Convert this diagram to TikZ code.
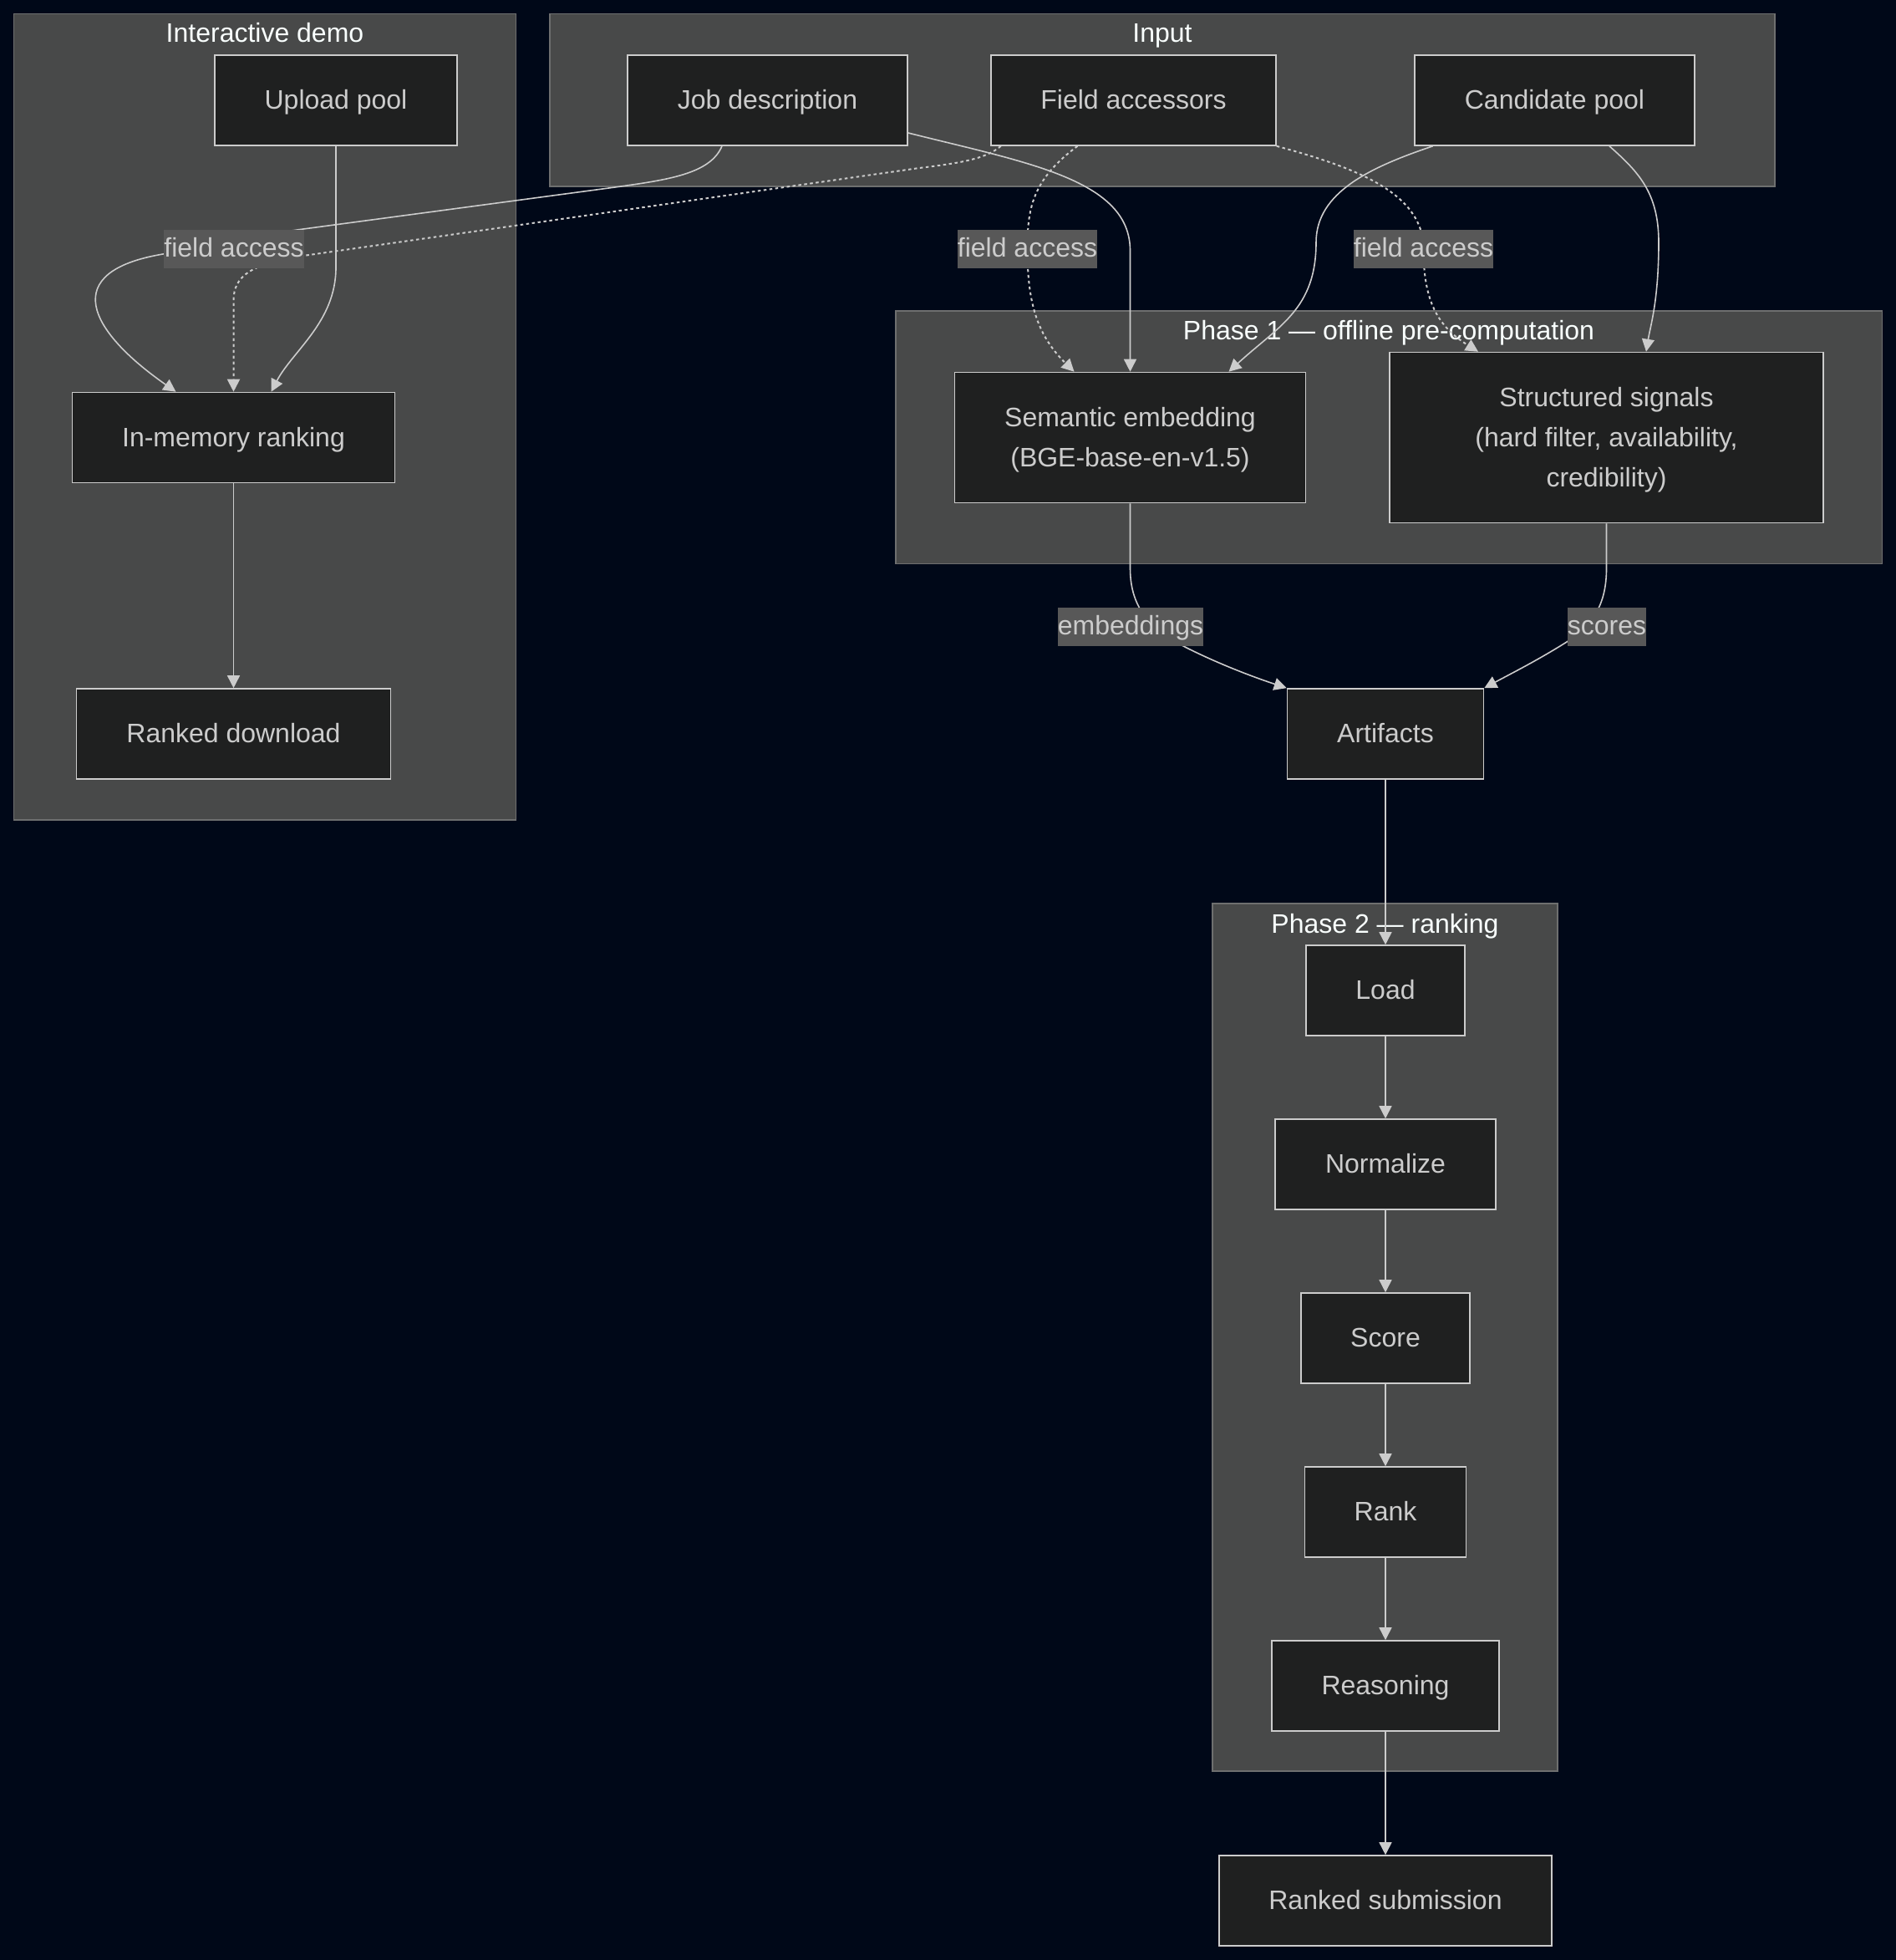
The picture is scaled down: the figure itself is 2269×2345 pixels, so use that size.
\documentclass[tikz,border=0pt]{standalone}
\usepackage{fontspec}
\setmainfont{Liberation Sans}
\usetikzlibrary{arrows.meta}
\definecolor{bgc}{HTML}{000818}
\definecolor{clusterfill}{HTML}{484949}
\definecolor{clusterline}{HTML}{6E6F6F}
\definecolor{nodefill}{HTML}{1F2020}
\definecolor{nodeline}{HTML}{CCCCCC}
\definecolor{textc}{HTML}{CCCCCC}
\definecolor{titlec}{HTML}{F9FFFE}
\definecolor{labelfill}{HTML}{585858}
\definecolor{edgec}{HTML}{CCCCCC}
\pgfdeclarelayer{bg}
\pgfdeclarelayer{back}
\pgfdeclarelayer{mid}
\pgfsetlayers{bg,back,mid,main}
\tikzset{
  nbox/.style={draw=nodeline, fill=nodefill, line width=1.6pt, text=textc, inner sep=0pt,
               minimum height=108pt, text height=21pt, text depth=0pt},
  mbox/.style={draw=nodeline, fill=nodefill, line width=1.6pt, text=textc, inner sep=0pt, align=center},
  cluster/.style={draw=clusterline, fill=clusterfill, line width=1.2pt},
  ctitle/.style={text=titlec, inner sep=0pt, text height=22pt, text depth=0pt},
  elabel/.style={fill=labelfill, text=textc, inner xsep=0pt, inner ysep=0pt,
                 minimum height=46pt, text height=19pt, text depth=0pt},
  conn/.style={draw=edgec, line width=1.6pt, -{Triangle[length=15pt,width=15pt]}},
  dotconn/.style={conn, line width=2pt, dash pattern=on 3.5pt off 3.5pt},
}
\begin{document}
\begin{tikzpicture}[x=1pt, y=-1pt, font=\fontsize{32pt}{48pt}\selectfont]
\begin{pgfonlayer}{bg}
  \fill[bgc] (0,0) rectangle (2269,2345);
\end{pgfonlayer}
\useasboundingbox (0,0) rectangle (2269,2345);

% clusters
\begin{pgfonlayer}{back}
  \draw[cluster] (16.5,16.5) rectangle (617.7,981);
  \node[ctitle] (tdemo) at (317,39) {Interactive demo};
  \draw[cluster] (658,16.5) rectangle (2124,223);
  \node[ctitle] (tinput) at (1391,39) {Input};
  \draw[cluster] (1072,372) rectangle (2252.5,674.6);
  \node[ctitle] (tphase1) at (1662,395) {Phase 1 — offline pre-computation};
  \draw[cluster] (1451,1081) rectangle (1864,2119);
  \node[ctitle] (tphase2) at (1657.5,1105) {Phase 2 — ranking};
\end{pgfonlayer}

% nodes
\node[nbox, minimum width=290pt] (upload) at (402,120) {Upload pool};
\node[nbox, minimum width=335pt] (job) at (918.5,120) {Job description};
\node[nbox, minimum width=341pt] (fa) at (1356.5,120) {Field accessors};
\node[nbox, minimum width=335pt] (cand) at (1860.5,120) {Candidate pool};
\node[nbox, minimum width=386pt] (inmem) at (279.5,523.5) {In-memory ranking};
\node[nbox, minimum width=376pt] (rdl) at (279.5,878) {Ranked download};
\node[mbox, minimum width=420pt, minimum height=156pt] (sem) at (1352.5,523.5) {\rule{0pt}{29pt}Semantic embedding\\(BGE-base-en-v1.5)};
\node[mbox, minimum width=519pt, minimum height=204pt] (struct) at (1922.5,523.5) {\rule{0pt}{29pt}Structured signals\\(hard filter, availability,\\credibility)};
\node[nbox, minimum width=235pt] (art) at (1658,878) {Artifacts};
\node[nbox, minimum width=190pt] (load) at (1658,1185) {Load};
\node[nbox, minimum width=264pt] (norm) at (1658,1393) {Normalize};
\node[nbox, minimum width=202pt] (score) at (1658,1601) {Score};
\node[nbox, minimum width=193pt] (rank) at (1658,1809) {Rank};
\node[nbox, minimum width=272pt] (reas) at (1658,2017) {Reasoning};
\node[nbox, minimum width=398pt] (rsub) at (1658,2274) {Ranked submission};

% edge labels
\node[elabel] (lbl1) at (280,297.5) {field access};
\node[elabel] (lbl2) at (1229.5,297.5) {field access};
\node[elabel] (lbl3) at (1703.5,297.5) {field access};
\node[elabel] (lbl4) at (1353,750) {embeddings};
\node[elabel] (lbl5) at (1923,750) {scores};

% connectors
\begin{pgfonlayer}{mid}
  \draw[conn] (upload.south) -- (402,320) .. controls (402,385) and (350,420) .. ([xshift=45pt]inmem.north);
  \draw[conn] ([xshift=-54.5pt]job.south) .. controls (850,208) and (800,215) .. (736,224) -- (363,274)
     .. controls (290,284) and (235,293) .. (195,304) .. controls (70,325) and (105,395) .. ([xshift=-69pt]inmem.north);
  \draw[dotconn] ([xshift=-158.8pt]fa.south) .. controls (1180,190) and (1150,195) .. (1100,201) -- (363,306)
     .. controls (300,316) and (279.5,330) .. (279.5,360) -- (inmem.north);
  \draw[conn] ([yshift=-39pt]job.east) .. controls (1230,195) and (1352.5,215) .. (1352.5,300) -- (sem.north);
  \draw[dotconn] ([xshift=-67pt]fa.south) .. controls (1235,215) and (1229.5,250) .. (lbl2.center)
     .. controls (1229.5,360) and (1240,400) .. ([xshift=-67pt]sem.north);
  \draw[dotconn] (fa.south east) .. controls (1620,200) and (1703.5,230) .. (lbl3.center)
     .. controls (1703.5,360) and (1720,390) .. ([xshift=-153.5pt]struct.north);
  \draw[conn] ([xshift=-145.8pt]cand.south) .. controls (1640,200) and (1575,230) .. (1575,290)
     .. controls (1575,370) and (1530,390) .. ([xshift=118pt]sem.north);
  \draw[conn] ([xshift=65.5pt]cand.south) .. controls (1960,205) and (1985,230) .. (1985,290)
     .. controls (1985,360) and (1975,390) .. ([xshift=47.5pt]struct.north);
  \draw[conn] (sem.south) -- (1352.5,680) .. controls (1352.5,730) and (1380,755) .. (1420,775)
     .. controls (1460,795) and (1500,810) .. (art.north west);
  \draw[conn] (struct.south) -- (1922.5,680) .. controls (1922.5,725) and (1905,748) .. (1875,768)
     .. controls (1840,790) and (1810,805) .. (art.north east);
  \draw[conn] (inmem.south) -- (rdl.north);
  \draw[conn] (art.south) -- (load.north);
  \draw[conn] (load.south) -- (norm.north);
  \draw[conn] (norm.south) -- (score.north);
  \draw[conn] (score.south) -- (rank.north);
  \draw[conn] (rank.south) -- (reas.north);
  \draw[conn] (reas.south) -- (rsub.north);
\end{pgfonlayer}
\end{tikzpicture}
\end{document}
